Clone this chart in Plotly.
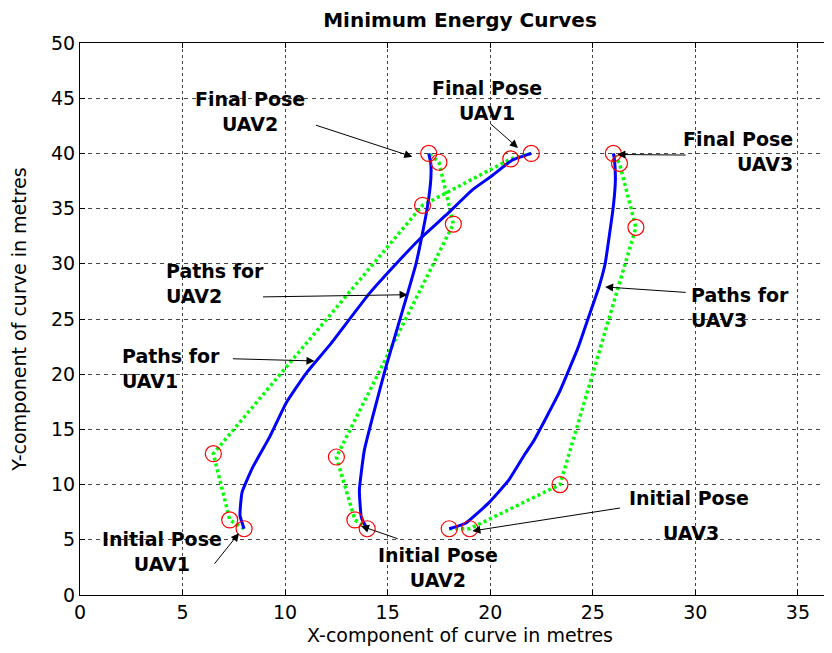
import plotly.graph_objects as go

# Control points (red circles, green dotted polygons)
uav1_ctrl_x = [8.0, 7.3, 6.5, 16.7, 21.0, 22.0]
uav1_ctrl_y = [6.0, 6.8, 12.8, 35.3, 39.5, 40.0]
uav2_ctrl_x = [14.0, 13.4, 12.5, 18.2, 17.5, 17.0]
uav2_ctrl_y = [6.0, 6.8, 12.5, 33.6, 39.2, 40.0]
uav3_ctrl_x = [18.0, 19.0, 23.4, 27.1, 26.3, 26.0]
uav3_ctrl_y = [6.0, 6.0, 10.0, 33.3, 39.1, 40.0]

# Minimum energy curves (blue)
uav1_path_x = [8.0, 7.8, 7.9, 8.43, 9.24, 10.05, 11.03, 12.2, 14.1, 15.56, 16.54, 17.84, 19.13, 20.1, 21.08, 22.0]
uav1_path_y = [6.0, 7.2, 9.3, 11.6, 14.3, 17.4, 20.1, 22.7, 27.3, 30.3, 32.2, 34.4, 36.7, 38.0, 39.4, 40.0]
uav2_path_x = [14.0, 13.72, 13.62, 13.86, 14.27, 14.92, 15.73, 16.38, 16.7, 16.94, 17.1, 17.1, 17.0]
uav2_path_y = [6.0, 7.0, 9.5, 13.1, 16.15, 20.7, 25.8, 30.0, 32.8, 35.2, 37.6, 39.1, 40.0]
uav3_path_x = [18.0, 18.8, 19.9, 20.9, 21.7, 22.13, 23.35, 24.3, 24.8, 25.3, 25.6, 25.8, 26.0, 26.1, 26.05, 26.0]
uav3_path_y = [6.0, 6.5, 8.3, 10.4, 12.8, 14.0, 18.3, 22.5, 25.2, 27.9, 30.0, 32.5, 35.2, 37.6, 39.5, 40.0]

x_ticks = [0, 5, 10, 15, 20, 25, 30, 35]
y_ticks = [0, 5, 10, 15, 20, 25, 30, 35, 40, 45, 50]

# Labels: text, x, y, xanchor, text alignment
label_text = ["Final Pose<br>UAV2", "Final Pose<br>UAV1", "Final Pose<br>UAV3",
              "Paths for<br>UAV2", "Paths for<br>UAV3", "Paths for<br>UAV1",
              "Initial Pose<br>UAV1", "Initial Pose<br>UAV2", "Initial Pose", "UAV3"]
label_x = [8.27, 19.84, 29.3, 4.1, 29.67, 1.95, 4.0, 17.46, 29.67, 29.8]
label_y = [43.8, 44.75, 40.2, 28.2, 26.0, 20.56, 3.94, 2.5, 8.79, 5.6]
label_anchor = ["center", "center", "left", "left", "left", "left", "center", "center", "center", "center"]
label_align = ["center", "center", "right", "left", "left", "left", "center", "center", "center", "center"]

# Arrows: head (x, y) and tail (x, y)
arrow_head_x = [16.2, 21.35, 26.2, 15.97, 25.6, 11.43, 7.75, 13.7, 19.13]
arrow_head_y = [39.7, 40.5, 39.9, 27.2, 27.9, 21.2, 5.6, 6.25, 5.8]
arrow_tail_x = [11.43, 19.94, 29.6, 8.85, 29.6, 7.38, 6.5, 15.56, 26.4]
arrow_tail_y = [42.6, 42.8, 39.85, 27.0, 27.4, 21.4, 2.7, 5.05, 7.9]

fig = go.Figure()

for cx, cy in [(uav1_ctrl_x, uav1_ctrl_y), (uav2_ctrl_x, uav2_ctrl_y), (uav3_ctrl_x, uav3_ctrl_y)]:
    fig.add_trace(go.Scatter(x=cx, y=cy, mode="lines",
                             line=dict(color="#00ff00", width=3.5, dash="3px,3px"),
                             showlegend=False, hoverinfo="skip"))
for px, py in [(uav1_path_x, uav1_path_y), (uav2_path_x, uav2_path_y), (uav3_path_x, uav3_path_y)]:
    fig.add_trace(go.Scatter(x=px, y=py, mode="lines",
                             line=dict(color="#0000ff", width=3, shape="spline", smoothing=0.4),
                             showlegend=False))
for cx, cy in [(uav1_ctrl_x, uav1_ctrl_y), (uav2_ctrl_x, uav2_ctrl_y), (uav3_ctrl_x, uav3_ctrl_y)]:
    fig.add_trace(go.Scatter(x=cx, y=cy, mode="markers",
                             marker=dict(symbol="circle-open", size=16, color="#ff0000",
                                         line=dict(width=1.2, color="#ff0000")),
                             showlegend=False))

annotations = []
for t, x, y, a, al in zip(label_text, label_x, label_y, label_anchor, label_align):
    annotations.append(dict(x=x, y=y, xref="x", yref="y", text="<b>%s</b>" % t,
                            showarrow=False, xanchor=a, yanchor="middle", align=al,
                            font=dict(family="DejaVu Sans", size=19, color="black")))
for hx, hy, tx, ty in zip(arrow_head_x, arrow_head_y, arrow_tail_x, arrow_tail_y):
    annotations.append(dict(x=hx, y=hy, ax=tx, ay=ty, xref="x", yref="y", axref="x", ayref="y",
                            text="", showarrow=True, arrowhead=2, arrowsize=1.6, arrowwidth=1,
                            arrowcolor="black", standoff=0, startstandoff=0))

# The page body adds an 8px offset, so the margins are reduced by 8px.
fig.update_layout(
    width=832, height=653,
    margin=dict(l=72, r=0, t=35, b=66),
    paper_bgcolor="white", plot_bgcolor="white",
    title=dict(text="<b>Minimum Energy Curves</b>", x=0.5, xref="paper", xanchor="center",
               y=1 - 12 / 653, yref="container", yanchor="middle",
               font=dict(family="DejaVu Sans", size=20, color="black")),
    annotations=annotations,
    xaxis=dict(range=[0, 37.05], tickvals=x_ticks, ticktext=[str(v) for v in x_ticks],
               automargin=False,
               showline=True, linecolor="black", linewidth=1, mirror="ticks",
               ticks="inside", ticklen=5, tickcolor="black",
               showgrid=True, gridcolor="#444", gridwidth=1.3, griddash="3px,3px",
               zeroline=False,
               tickfont=dict(family="DejaVu Sans", size=19, color="black"),
               title=dict(text="X-component of curve in metres", standoff=6,
                          font=dict(family="DejaVu Sans", size=19, color="black"))),
    yaxis=dict(range=[0, 50], tickvals=y_ticks, ticktext=[str(v) for v in y_ticks],
               automargin=False,
               showline=True, linecolor="black", linewidth=1, mirror="ticks",
               ticks="inside", ticklen=5, tickcolor="black",
               showgrid=True, gridcolor="#444", gridwidth=1.3, griddash="4px,4px",
               zeroline=False,
               tickfont=dict(family="DejaVu Sans", size=19, color="black"),
               title=dict(text="Y-component of curve in metres", standoff=20,
                          font=dict(family="DejaVu Sans", size=19, color="black"))),
)

fig.write_html("out.html")
